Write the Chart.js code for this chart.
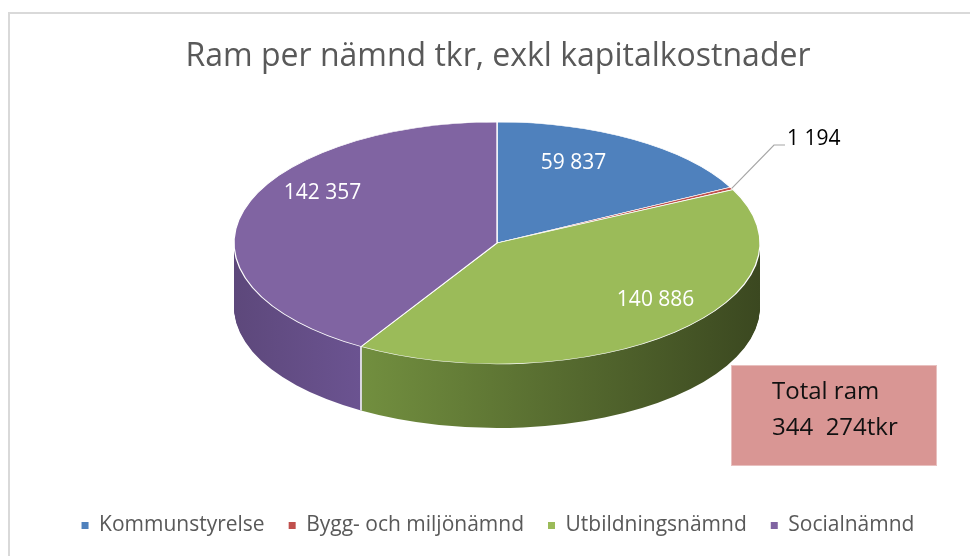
<!DOCTYPE html>
<html><head><meta charset="utf-8">
<script src="https://cdn.jsdelivr.net/npm/chart.js@4/dist/chart.umd.min.js"></script>
<style>html,body{margin:0;padding:0;background:#fff}#wrap{width:970px;height:556px;position:relative}</style>
</head><body><div id="wrap"><canvas id="c" width="970" height="556"></canvas></div>
<script>
// ---- data ----
const categories = ['Kommunstyrelse', 'Bygg- och miljönämnd', 'Utbildningsnämnd', 'Socialnämnd'];
const values = [59837, 1194, 140886, 142357];
const valueLabels = ['59 837', '1 194', '140 886', '142 357'];
const chartTitle = 'Ram per nämnd tkr, exkl kapitalkostnader';
const totalLines = ['Total ram', '344  274tkr'];

// ---- style ----
const FONT = "'Open Sans', 'DejaVu Sans', sans-serif";
const topColors = ['#4F81BD', '#C0504D', '#9BBB59', '#8064A2'];
const sideColors = [['#3a6594', '#2c4e74'], ['#963d3a', '#742f2d'], ['#728f3f', '#3b4820'], ['#5d487b', '#6b5391']];
const labelColors = ['#ffffff', '#000000', '#ffffff', '#ffffff'];
const labelRadius = [0.62, 1, 0.8, 0.72];
const labelNudge = [[-1, -2], [0, 0], [0, -1], [2, -8]];
const GEO = {cx: 497, cy: 243, rx: 263, ry: 121, depth: 64, vy: 223, persp: -0.1755, frontY: 367};

function tiltPoint(angle, f) {
  // approximate the perspective of the reference 3D pie for label placement
  const u = Math.cos(angle) * f, v = Math.sin(angle) * f;
  const c = GEO.persp;
  const a = GEO.frontY * (1 + c) - GEO.vy;
  const den = 1 + c * v;
  return {x: GEO.cx + GEO.rx * u / den, y: (a * v + GEO.vy) / den};
}

function visibleFront(s, e) {
  const res = [];
  for (const k of [-1, 0, 1]) {
    const lo = Math.max(s, k * 2 * Math.PI), hi = Math.min(e, k * 2 * Math.PI + Math.PI);
    if (hi > lo) res.push([lo, hi]);
  }
  return res;
}

const pie3d = {
  id: 'pie3d',
  beforeDraw(chart) {
    const ctx = chart.ctx;
    ctx.save();
    ctx.fillStyle = '#ffffff';
    ctx.fillRect(0, 0, chart.width, chart.height);
    ctx.strokeStyle = '#d9d9d9';
    ctx.lineWidth = 2;
    ctx.beginPath();
    ctx.moveTo(9, chart.height);
    ctx.lineTo(9, 13);
    ctx.lineTo(chart.width, 13);
    ctx.stroke();
    ctx.restore();
  },
  beforeDatasetsDraw(chart) {
    const ctx = chart.ctx;
    const els = chart.getDatasetMeta(0).data;
    if (!els.length) return;
    const a0 = els[0];
    const r = a0.outerRadius;
    const sx = GEO.rx / r, sy = GEO.ry / r;
    const Proto = Object.getPrototypeOf(a0);
    const sideInfo = els.map((el) => {
      const vis = visibleFront(el.startAngle, el.endAngle);
      if (!vis.length) return null;
      const xs = [];
      vis.forEach(([lo, hi]) => { xs.push(GEO.cx + GEO.rx * Math.cos(lo), GEO.cx + GEO.rx * Math.cos(hi)); });
      return {xmin: Math.min(...xs), xmax: Math.max(...xs)};
    });
    for (let d = GEO.depth; d >= 1; d--) {
      els.forEach((el, i) => {
        const info = sideInfo[i];
        if (!info) return;
        ctx.save();
        ctx.translate(GEO.cx, GEO.cy + d);
        ctx.scale(sx, sy);
        ctx.translate(-el.x, -el.y);
        const ux0 = el.x + (info.xmin - GEO.cx) / sx, ux1 = el.x + (info.xmax - GEO.cx) / sx;
        const g = ctx.createLinearGradient(ux0, 0, ux1, 0);
        g.addColorStop(0, sideColors[i][0]);
        g.addColorStop(1, sideColors[i][1]);
        const fake = Object.assign(Object.create(Proto), el);
        fake.options = Object.assign({}, el.options, {backgroundColor: g, borderWidth: 0});
        fake.draw(ctx);
        ctx.restore();
      });
    }
    ctx.save();
    ctx.strokeStyle = '#ffffff';
    ctx.lineWidth = 1.5;
    els.forEach((el) => {
      const a = el.endAngle;
      if (Math.sin(a) > 0.02) {
        const x = GEO.cx + GEO.rx * Math.cos(a), y = GEO.cy + GEO.ry * Math.sin(a);
        ctx.beginPath(); ctx.moveTo(x, y); ctx.lineTo(x, y + GEO.depth); ctx.stroke();
      }
    });
    ctx.restore();
    ctx.save();
    ctx.translate(GEO.cx, GEO.cy);
    ctx.scale(sx, sy);
    ctx.translate(-a0.x, -a0.y);
  },
  afterDatasetsDraw(chart) {
    const ctx = chart.ctx;
    ctx.restore();
    const els = chart.getDatasetMeta(0).data;
    ctx.save();
    ctx.font = `21px ${FONT}`;
    ctx.textBaseline = 'middle';
    els.forEach((el, i) => {
      const mid = (el.startAngle + el.endAngle) / 2;
      if (i === 1) {
        const x0 = GEO.cx + GEO.rx * Math.cos(mid), y0 = GEO.cy + GEO.ry * Math.sin(mid);
        ctx.strokeStyle = '#a6a6a6';
        ctx.lineWidth = 1.2;
        ctx.beginPath(); ctx.moveTo(x0, y0); ctx.lineTo(774, 145); ctx.lineTo(785, 145); ctx.stroke();
        ctx.fillStyle = labelColors[i];
        ctx.textAlign = 'left';
        ctx.fillText(valueLabels[i], 787, 139);
        return;
      }
      const p = tiltPoint(mid, labelRadius[i]);
      ctx.fillStyle = labelColors[i];
      ctx.textAlign = 'center';
      ctx.fillText(valueLabels[i], p.x + labelNudge[i][0], p.y + labelNudge[i][1]);
    });
    ctx.fillStyle = '#D99694';
    ctx.fillRect(731, 365, 206, 101);
    ctx.strokeStyle = '#e8c0bf';
    ctx.lineWidth = 1;
    ctx.strokeRect(731.5, 365.5, 205, 100);
    ctx.fillStyle = '#111111';
    ctx.font = `24px ${FONT}`;
    ctx.textAlign = 'left';
    ctx.fillText(totalLines[0], 772, 392);
    ctx.fillText(totalLines[1], 772, 428);
    ctx.restore();
  }
};

new Chart(document.getElementById('c'), {
  type: 'pie',
  data: {
    labels: categories,
    datasets: [{
      data: values,
      backgroundColor: topColors,
      borderColor: '#ffffff',
      borderWidth: 1,
      clip: false
    }]
  },
  options: {
    responsive: false,
    animation: false,
    events: [],
    layout: {padding: {top: 0, bottom: 10, left: 26, right: 0}},
    plugins: {
      title: {
        display: true,
        text: chartTitle,
        color: '#595959',
        font: {family: FONT, size: 32, weight: 'normal'},
        padding: {top: 38, bottom: 20}
      },
      legend: {
        position: 'bottom',
        labels: {
          color: '#595959',
          font: {family: FONT, size: 21},
          boxWidth: 7,
          boxHeight: 7,
          padding: 24,
          generateLabels(chart) {
            const items = Chart.DoughnutController.overrides.plugins.legend.labels.generateLabels(chart);
            items.forEach(it => { it.lineWidth = 0; it.strokeStyle = 'rgba(0,0,0,0)'; });
            return items;
          }
        }
      },
      tooltip: {enabled: false}
    }
  },
  plugins: [pie3d]
});
</script>
</body></html>
